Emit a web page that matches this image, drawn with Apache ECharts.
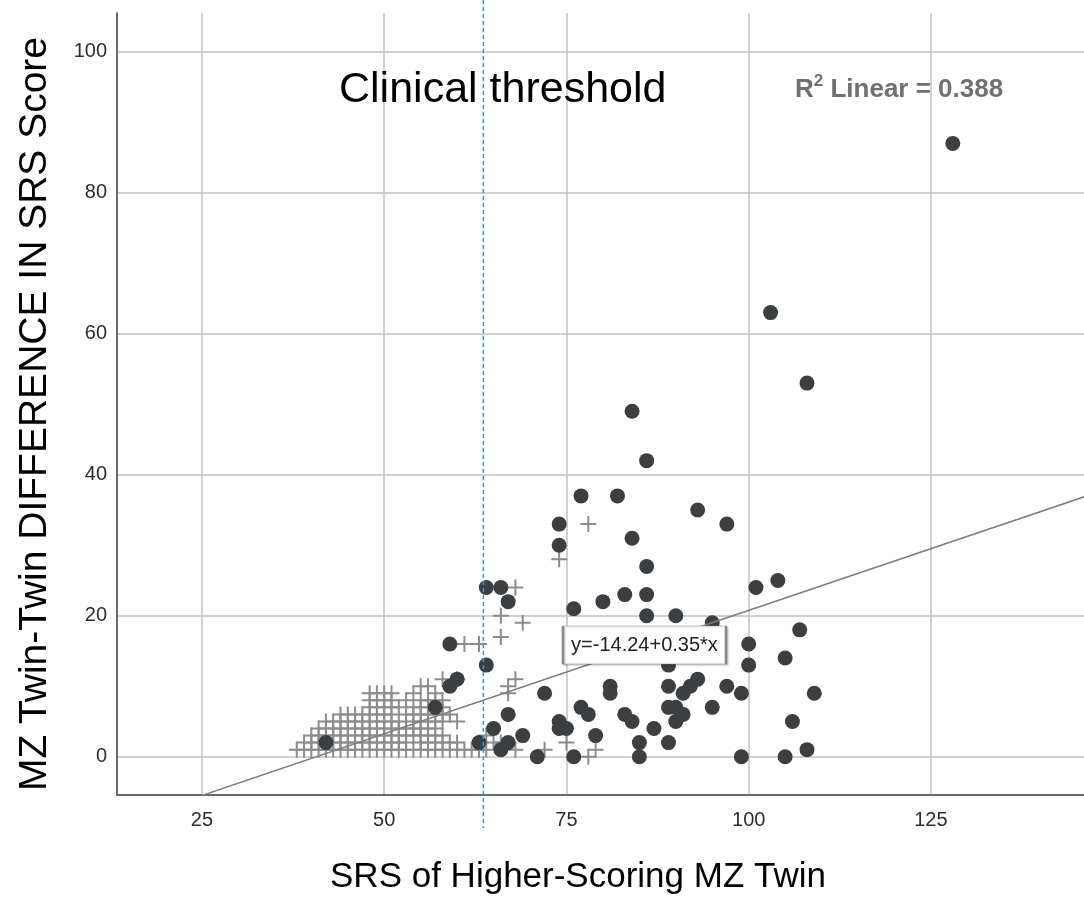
<!DOCTYPE html>
<html><head><meta charset="utf-8">
<script src="https://cdn.jsdelivr.net/npm/echarts@6/dist/echarts.min.js"></script>
<style>html,body{margin:0;padding:0;background:#fff}#c{width:1084px;height:917px}</style>
</head><body><div id="c"></div>
<script>
// ---- data ----
const xTicks = [25, 50, 75, 100, 125];
const yTicks = [0, 20, 40, 60, 80, 100];
const xRange = [13.34, 146];
const yRange = [-5.43, 105.5];
const threshold = 63.6;
const xTitle = 'SRS of Higher-Scoring MZ Twin';
const yTitle = 'MZ Twin-Twin DIFFERENCE IN SRS Score';
const thresholdLabel = 'Clinical threshold';
const r2Value = '0.388';
const eqText = 'y=-14.24+0.35*x';
const eqAt = [85.7, 15.84];
const fitLine = [[25, -5.49], [150, 38.26]];

const circlePts = [
  [128,87],[103,63],[108,53],[84,49],[86,42],[77,37],[82,37],[93,35],[97,33],[74,33],
  [84,31],[74,30],[86,27],[101,24],[104,25],[64,24],[66,24],[67,22],[83,23],[86,23],
  [80,22],[76,21],[86,20],[90,20],[95,19],[107,18],[59,16],[100,16],[105,14],[64,13],
  [89,13],[100,13],[60,11],[93,11],[59,10],[81,10],[89,10],[92,10],[97,10],[72,9],
  [81,9],[91,9],[99,9],[109,9],[57,7],[77,7],[89,7],[90,7],[95,7],[67,6],
  [78,6],[83,6],[91,6],[74,5],[84,5],[90,5],[106,5],[65,4],[74,4],[75,4],
  [87,4],[69,3],[79,3],[42,2],[63,2],[67,2],[85,2],[89,2],[66,1],[108,1],
  [71,0],[76,0],[85,0],[99,0],[105,0]
];

const crossPts = [
  [38,1],[39,1],[40,1],[41,1],[42,1],[43,1],[44,1],[45,1],[46,1],[47,1],[48,1],[49,1],[50,1],
  [51,1],[52,1],[53,1],[54,1],[55,1],[56,1],[57,1],[58,1],[59,1],[60,1],[61,1],[62,1],
  [39,2],[40,2],[41,2],[42,2],[43,2],[44,2],[45,2],[46,2],[47,2],[48,2],[49,2],[50,2],[51,2],
  [52,2],[53,2],[55,2],[56,2],[57,2],[58,2],[59,2],[60,2],
  [40,3],[41,3],[42,3],[43,3],[44,3],[45,3],[46,3],[47,3],[48,3],[49,3],[50,3],[51,3],[52,3],
  [53,3],[54,3],[55,3],[56,3],[57,3],[58,3],
  [41,4],[42,4],[43,4],[44,4],[45,4],[46,4],[47,4],[48,4],[49,4],[50,4],[51,4],[52,4],[53,4],
  [54,4],[55,4],[56,4],[57,4],
  [42,5],[43,5],[44,5],[45,5],[46,5],[47,5],[48,5],[49,5],[50,5],[51,5],[52,5],[54,5],[55,5],
  [56,5],[57,5],[58,5],[60,5],
  [44,6],[45,6],[46,6],[47,6],[48,6],[49,6],[50,6],[51,6],[53,6],[54,6],[55,6],[56,6],[57,6],
  [58,6],[59,6],
  [48,7],[49,7],[50,7],[51,7],[52,7],[54,7],[55,7],[56,7],[57,7],[58,7],
  [48,8],[49,8],[50,8],[51,8],[53,8],[55,8],[56,8],[57,8],[58,8],
  [48,9],[49,9],[50,9],[51,9],[54,9],[57,9],
  [55,10],[56,10],[58,11],[60,11],
  [61,16],[63,16],[66,17],[66,20],[69,19],[68,24],[74,28],[78,33],[68,11],[67,10],[67,9],
  [64,3],[65,2],[66,2],[68,1],[72,1],[75,2],[78,0],[79,1],[63,1],[64,1]
];

// ---- chart ----
const FONT = '"Liberation Sans", Arial, sans-serif';
const chart = echarts.init(document.getElementById('c'), null, {renderer: 'canvas'});
const crossSymbol = 'path://M7,0h2v7h7v2h-7v7h-2v-7h-7v-2h7z';

const option = {
  animation: false,
  backgroundColor: '#fff',
  grid: {left: 117, top: 13, right: 0, bottom: 122, containLabel: false},
  xAxis: {
    type: 'value', min: xRange[0], max: xRange[1],
    axisLine: {show: true, onZero: false, lineStyle: {color: '#6a6a6a', width: 2}},
    axisTick: {show: false, customValues: xTicks},
    axisLabel: {customValues: xTicks, color: '#2e2e2e', fontSize: 20, fontFamily: FONT, margin: 15},
    splitLine: {show: true, lineStyle: {color: '#c2c2c2', width: 1.5}}
  },
  yAxis: {
    type: 'value', min: yRange[0], max: yRange[1],
    axisLine: {show: true, onZero: false, lineStyle: {color: '#6a6a6a', width: 2}},
    axisTick: {show: false, customValues: yTicks},
    axisLabel: {customValues: yTicks, color: '#2e2e2e', fontSize: 20, fontFamily: FONT, margin: 10},
    splitLine: {show: true, lineStyle: {color: '#c2c2c2', width: 1.5}}
  },
  series: [
    {
      type: 'scatter', name: 'below', data: crossPts, symbol: crossSymbol, symbolSize: 16,
      itemStyle: {color: '#8c8c8c', opacity: 1}, z: 2
    },
    {
      type: 'scatter', name: 'above', data: circlePts, symbol: 'circle', symbolSize: 15,
      itemStyle: {color: '#3b3f42', opacity: 1}, z: 3
    },
    {
      type: 'line', data: fitLine, showSymbol: false, symbol: 'none', clip: true,
      lineStyle: {color: '#7d7d7d', width: 1.5}, z: 4
    },
    {
      type: 'scatter', data: [eqAt], symbol: 'rect', symbolSize: [163, 38], z: 5,
      itemStyle: {color: '#fff', borderColor: '#8a8a8a', borderWidth: 1.2, opacity: 1,
                  shadowColor: 'rgba(0,0,0,0.25)', shadowBlur: 2, shadowOffsetX: 1, shadowOffsetY: 1},
      label: {show: true, position: 'inside', formatter: eqText, color: '#222', fontSize: 20, fontFamily: FONT}
    }
  ]
};
chart.setOption(option);

const xPx = chart.convertToPixel({xAxisIndex: 0}, threshold);
chart.setOption({
  graphic: [
    {type: 'line', shape: {x1: xPx, y1: 0, x2: xPx, y2: 828}, z: 10,
     style: {stroke: '#3f8fe3', lineWidth: 1.5, lineDash: [4, 3]}},
    {type: 'text', x: 339, y: 90, z: 11,
     style: {text: thresholdLabel, font: '43px ' + FONT, fill: '#000', textAlign: 'left', textVerticalAlign: 'middle'}},
    {type: 'text', x: 795, y: 88, z: 11,
     style: {
       text: '{r|R}{s|2}{r| Linear = ' + r2Value + '}',
       textAlign: 'left', textVerticalAlign: 'middle',
       rich: {
         r: {fontSize: 26, fontWeight: 'bold', fontFamily: FONT, fill: '#707070', lineHeight: 30, verticalAlign: 'bottom'},
         s: {fontSize: 17, fontWeight: 'bold', fontFamily: FONT, fill: '#707070', lineHeight: 30, verticalAlign: 'top'}
       }
     }},
    {type: 'text', x: 35, y: 414, rotation: Math.PI / 2, z: 11,
     style: {text: yTitle, font: '39px ' + FONT, fill: '#000', textAlign: 'center', textVerticalAlign: 'middle'}},
    {type: 'text', x: 578, y: 877, z: 11,
     style: {text: xTitle, font: '35px ' + FONT, fill: '#000', textAlign: 'center', textVerticalAlign: 'middle'}}
  ]
});
</script>
</body></html>
